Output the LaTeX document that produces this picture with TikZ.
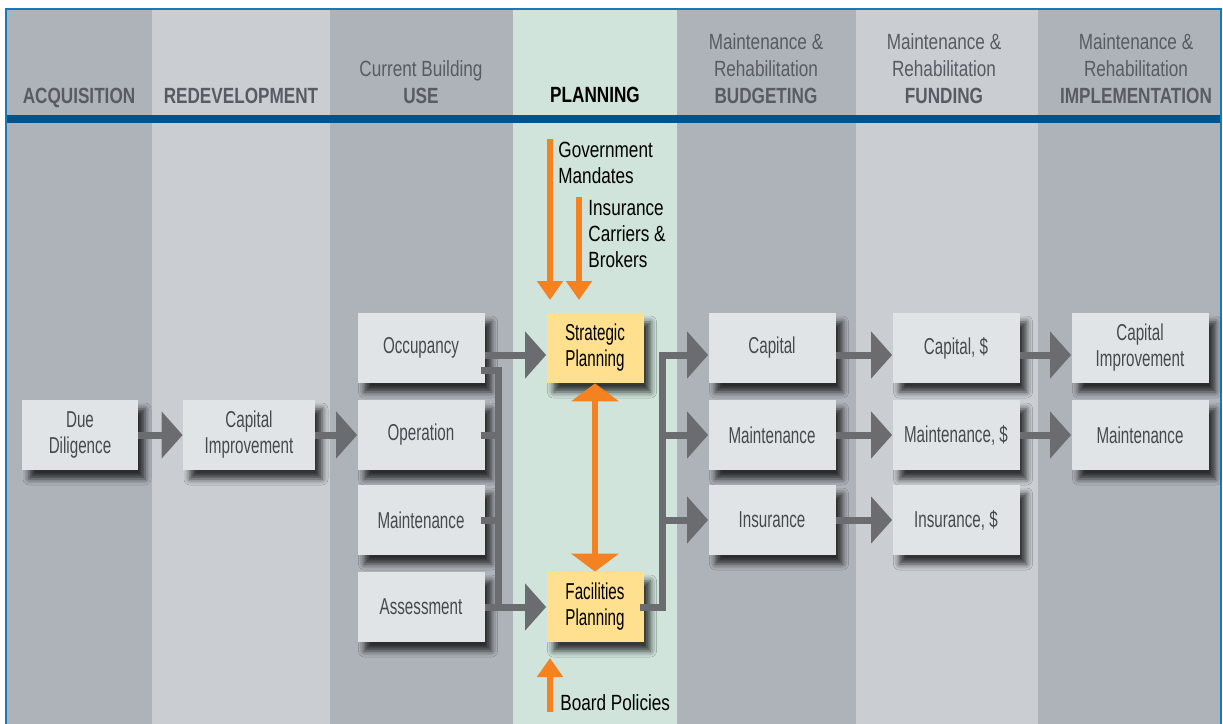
\documentclass[tikz,border=0pt]{standalone}
\usepackage{fontspec}
\setmainfont{Liberation Sans}[FakeStretch=0.66]
\newfontfamily\hdrfont{Liberation Sans}[FakeStretch=0.78]
\usetikzlibrary{arrows.meta,shadows.blur,positioning}
\definecolor{coldark}{HTML}{AEB3BA}
\definecolor{collight}{HTML}{CACED2}
\definecolor{colplan}{HTML}{D0E4DC}
\definecolor{bandblue}{HTML}{00548C}
\definecolor{frameblue}{HTML}{1479BD}
\definecolor{boxfill}{HTML}{E1E4E7}
\definecolor{boxtext}{HTML}{464A4F}
\definecolor{hdrtext}{HTML}{585C62}
\definecolor{planyellow}{HTML}{FEE08F}
\definecolor{arrowgray}{HTML}{6B6C6F}
\definecolor{mandorange}{HTML}{F58220}
\tikzset{
  hdr/.style={inner sep=0pt, text depth=0pt, align=center, text=hdrtext, font=\hdrfont\fontsize{11}{13.5}\selectfont},
  note/.style={inner sep=0pt, align=left, text=black, font=\hdrfont\fontsize{11}{13}\selectfont},
  procbox/.style={fill=boxfill, minimum width=63.5pt, minimum height=35pt, align=center, text=boxtext,
    font=\fontsize{11.5}{13}\selectfont,
    blur shadow={shadow xshift=3.5pt, shadow yshift=-4.5pt, shadow blur radius=3pt, shadow opacity=75}},
  planbox/.style={procbox, fill=planyellow, text=black, minimum width=48.5pt},
  flow/.style={draw=arrowgray, line width=3.5pt, -{Triangle[length=10.5pt,width=23pt]}},
  conn/.style={draw=arrowgray, line width=3.5pt, line cap=rect},
  mandate/.style={draw=mandorange, line width=3pt, -{Triangle[length=9.5pt,width=12.5pt]}},
  twoway/.style={draw=mandorange, line width=3pt, {Triangle[length=9pt,width=23.5pt]}-{Triangle[length=9pt,width=23.5pt]}}
}
\begin{document}
\begin{tikzpicture}[x=0.5pt,y=-0.5pt]
\useasboundingbox (0,0) rectangle (1223,724);
\fill[white] (0,0) rectangle (1223,724);
% columns
\fill[coldark] (7,9) rectangle (152,724);
\fill[collight] (152,9) rectangle (330,724);
\fill[coldark] (330,9) rectangle (513,724);
\fill[colplan] (513,9) rectangle (677,724);
\fill[coldark] (677,9) rectangle (856,724);
\fill[collight] (856,9) rectangle (1038,724);
\fill[coldark] (1038,9) rectangle (1221,724);
\fill[bandblue] (7,115) rectangle (1221,123);
\draw[frameblue, line width=1pt] (6,724) -- (6,8.5) -- (1221,8.5) -- (1221,724);

% column headings
\node[hdr, anchor=south] (hacq) at (79,104) {\textbf{ACQUISITION}};
\node[hdr, anchor=south] (hredev) at (241,104) {\textbf{REDEVELOPMENT}};
\node[hdr, anchor=south] (huse) at (421,104) {Current Building\\\textbf{USE}};
\node[hdr, anchor=south, text=black] (hplan) at (595,103) {\textbf{PLANNING}};
\node[hdr, anchor=south] (hbudg) at (766,104) {Maintenance \&\\Rehabilitation\\\textbf{BUDGETING}};
\node[hdr, anchor=south] (hfund) at (944,104) {Maintenance \&\\Rehabilitation\\\textbf{FUNDING}};
\node[hdr, anchor=south] (himpl) at (1136,104) {Maintenance \&\\Rehabilitation\\\textbf{IMPLEMENTATION}};

% boxes
\node[procbox, minimum width=58pt] (dd) at (80,435) {Due\\Diligence};
\node[procbox, minimum width=66pt] (redev) at (249,435) {Capital\\Improvement};
\node[procbox] (occ) at (421,348) {Occupancy};
\node[procbox] (oper) at (421,435) {Operation};
\node[procbox] (umaint) at (421,520) {Maintenance};
\node[procbox] (assess) at (421,607) {Assessment};
\node[planbox] (strat) at (595,348) {Strategic\\Planning};
\node[planbox] (facil) at (595,607) {Facilities\\Planning};
\node[procbox] (bcap) at (772,348) {Capital};
\node[procbox] (bmaint) at (772,435) {Maintenance};
\node[procbox] (bins) at (772,520) {Insurance};
\node[procbox] (fcap) at (956,348) {Capital, \$};
\node[procbox] (fmaint) at (956,435) {Maintenance, \$};
\node[procbox] (fins) at (956,520) {Insurance, \$};
\node[procbox, minimum width=68.5pt] (icap) at (1140,348) {Capital\\Improvement};
\node[procbox, minimum width=68.5pt] (imaint) at (1140,435) {Maintenance};

% outside inputs
\node[note, anchor=north west] (govtxt) at (558,142) {Government\\Mandates};
\node[note, anchor=north west] (instxt) at (588,200) {Insurance\\Carriers \&\\Brokers};
\node[note, anchor=north west] (boardtxt) at (560,694) {Board Policies};
\coordinate (govtop) at (550,139);
\coordinate (govtip) at (550,300);
\coordinate (instop) at (579,197);
\coordinate (instip) at (579,300);
\coordinate (boardbot) at (550,712);
\coordinate (boardtip) at (550,658);
\draw[mandate] (govtop) -- (govtip);
\draw[mandate] (instop) -- (instip);
\draw[mandate] (boardbot) -- (boardtip);
\draw[twoway] (facil) -- (strat);

% gray flows
\draw[flow] (dd) -- (redev);
\draw[flow] (redev) -- (oper);
\draw[flow] ([yshift=-3.5pt]occ.east) -- ([yshift=-3.5pt]strat.west);
\coordinate (ubtop) at (498,370);
\coordinate (ubbot) at (498,607);
\draw[conn] (occ.east |- ubtop) -- (ubtop) -- (ubbot);
\draw[conn] (oper.east) -- (oper.east -| ubtop);
\draw[conn] (umaint.east) -- (umaint.east -| ubtop);
\draw[flow] (assess) -- (facil);
\coordinate (bbtop) at (662,355);
\draw[conn] (facil.east) -- (facil.east -| bbtop) -- (bbtop);
\draw[flow] (bbtop) -- (bbtop -| bcap.west);
\draw[flow] (bbtop |- bmaint) -- (bmaint);
\draw[flow] (bbtop |- bins) -- (bins);
\draw[flow] ([yshift=-3.5pt]bcap.east) -- ([yshift=-3.5pt]fcap.west);
\draw[flow] ([yshift=-3.5pt]fcap.east) -- ([yshift=-3.5pt]icap.west);
\draw[flow] (bmaint) -- (fmaint);
\draw[flow] (bins) -- (fins);
\draw[flow] (fmaint) -- (imaint);
\end{tikzpicture}
\end{document}
